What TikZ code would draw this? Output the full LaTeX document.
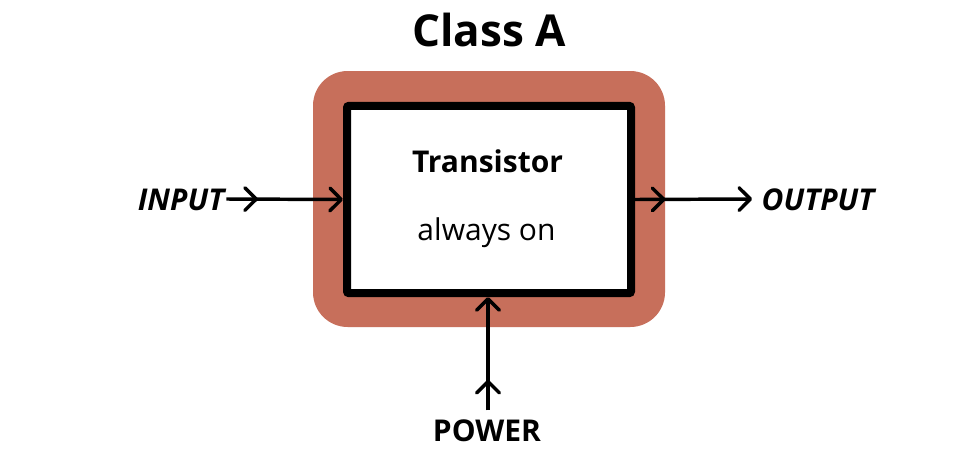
\documentclass[tikz,border=0pt]{standalone}
\usepackage{xcolor}
\usepackage{fontspec}
\setmainfont{Open Sans}
\usetikzlibrary{arrows.meta,decorations.markings}
\definecolor{casered}{HTML}{C76F5B}
\tikzset{
    barb/.tip={Straight Barb[length=8.5pt,width=17pt,line width=2.6pt,round]},
    flow/.style={line width=2.6pt,-barb},
    midbarb/.style={postaction={decorate},decoration={markings,mark=at position #1 with {\arrow{barb}}}},
    label/.style={inner sep=0pt,font=\fontsize{22.5pt}{27pt}\selectfont},
    casebox/.style={fill=casered,rounded corners=26pt,minimum width=264pt,minimum height=192pt},
    transbox/.style={draw=black,fill=white,line width=6pt,rounded corners=1.5pt,minimum width=213pt,minimum height=140.5pt}
}
\begin{document}
\begin{tikzpicture}
                \tikzset{x={(0.75pt, 0pt)}, y={(0pt, -0.75pt)}}
                \useasboundingbox[fill=white] (0, 0) rectangle (978, 468);
                \node[label, font=\fontsize{33pt}{40pt}\selectfont\bfseries] (title) at (489, 30) {Class A};
                \node[casebox] (case) at (489, 199) {};
                \node[transbox] (transistor) at (489, 199.5) {};
                \node[label, font=\fontsize{22.5pt}{27pt}\selectfont\bfseries] (name) at (487.5, 161) {Transistor};
                \node[label] (state) at (486.5, 233) {always on};
                \node[label, font=\fontsize{22.5pt}{27pt}\selectfont\bfseries\itshape, inner sep=1.5pt] (input) at (181, 200) {INPUT};
                \node[label, font=\fontsize{22.5pt}{27pt}\selectfont\bfseries\itshape, inner sep=7pt] (output) at (818, 200) {OUTPUT};
                \node[label, font=\fontsize{22.5pt}{27pt}\selectfont\bfseries, inner sep=7pt] (power) at (487, 431) {POWER};
                \draw[flow, midbarb=0.27] (input.east |- 0, 199) -- (transistor.west);
                \draw[flow, midbarb=0.26] (transistor.east) -- (output.west |- 0, 199);
                \draw[flow, midbarb=0.27] (power.north -| 488, 0) -- (transistor.south -| 488, 0);
            \end{tikzpicture}
\end{document}
